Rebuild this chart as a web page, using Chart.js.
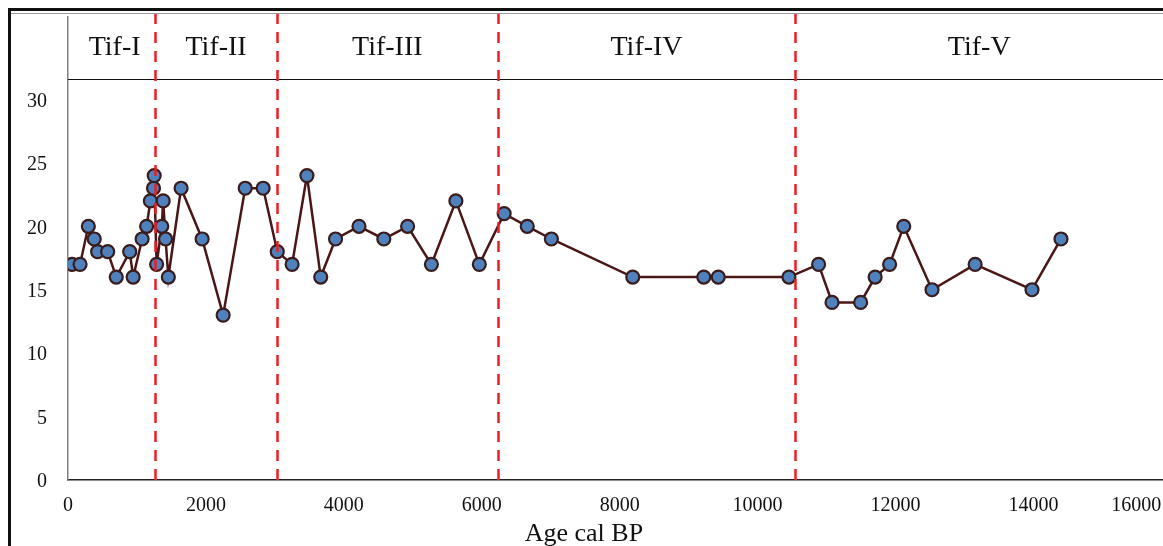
<!DOCTYPE html>
<html>
<head>
<meta charset="utf-8">
<script src="https://cdn.jsdelivr.net/npm/chart.js@4/dist/chart.umd.min.js"></script>
<style>
  html, body { margin: 0; padding: 0; background: #fff; overflow: hidden; width: 1163px; height: 546px; }
  #wrap { position: relative; width: 1180px; height: 546px; }
  #frameOuter { position: absolute; left: 8px; top: 8px; width: 2000px; height: 2000px;
    border-left: 3px solid #111; border-top: 3px solid #111; pointer-events: none; }
  #frameInner { position: absolute; left: 11px; top: 13px; width: 2000px; height: 1px;
    background: #9a9a9a; pointer-events: none; }
</style>
</head>
<body>
<div id="wrap">
  <canvas id="c" width="1180" height="546"></canvas>
  <div id="frameOuter"></div>
  <div id="frameInner"></div>
</div>
<script>
// ---- data ----
const ageBP = [60,175,295,380,430,575,700,895,945,1075,
  1140,1195,1240,1250,1285,1360,1380,1415,1455,1640,
  1945,2250,2570,2830,3035,3250,3465,3665,3880,4220,
  4580,4925,5270,5625,5965,6325,6660,7010,8190,9220,
  9430,10455,10885,11080,11495,11705,11915,12120,12530,13155,
  13980,14400];
const values = [17,17,20,19,18,18,16,18,16,19,
  20,22,23,24,17,20,22,19,16,23,
  19,13,23,23,18,17,24,16,19,20,
  19,20,17,22,17,21,20,19,16,16,
  16,16,17,14,14,16,17,20,15,17,
  15,19];
const zoneNames = ['Tif-I','Tif-II','Tif-III','Tif-IV','Tif-V'];
const zoneBoundaries = [1265, 3030, 6230, 10550];
const yTickValues = [0,5,10,15,20,25,30];
const xTickValues = [0,2000,4000,6000,8000,10000,12000,14000,16000];
const xAxisTitle = 'Age cal BP';

const points = ageBP.map((a, i) => ({ x: a, y: values[i] }));
const NB = '\u00a0';
const serif = "'Liberation Serif', 'Times New Roman', serif";

const zonePlugin = {
  id: 'zones',
  beforeDatasetsDraw(chart) {
    const { ctx, chartArea: a, scales: { x, y } } = chart;
    const headerY = Math.round(y.getPixelForValue(31.6)) + 0.5;
    ctx.save();
    ctx.strokeStyle = '#111';
    ctx.lineWidth = 1.2;
    ctx.beginPath();
    ctx.moveTo(a.left, headerY);
    ctx.lineTo(a.right + 20, headerY);
    ctx.stroke();
    const visRight = Math.min(a.right, window.innerWidth);
    const edges = [a.left].concat(zoneBoundaries.map(b => x.getPixelForValue(b)), [visRight]);
    ctx.fillStyle = '#111';
    ctx.font = "28px " + serif;
    ctx.textAlign = 'center';
    ctx.textBaseline = 'middle';
    const midY = (a.top + headerY) / 2 - 1;
    zoneNames.forEach((n, i) => {
      ctx.fillText(n, (edges[i] + edges[i + 1]) / 2 + (i === 0 ? 3 : 0), midY);
    });
    ctx.restore();
  },
  afterDatasetsDraw(chart) {
    const { ctx, chartArea: a, scales: { x } } = chart;
    ctx.save();
    ctx.strokeStyle = '#ee1c25';
    ctx.lineWidth = 2.5;
    ctx.setLineDash([11, 8]);
    zoneBoundaries.forEach(b => {
      const px = Math.round(x.getPixelForValue(b)) + 0.5;
      ctx.beginPath();
      ctx.moveTo(px, a.top - 4);
      ctx.lineTo(px, a.bottom);
      ctx.stroke();
    });
    ctx.restore();
  }
};

new Chart(document.getElementById('c'), {
  type: 'scatter',
  data: {
    datasets: [{
      data: points,
      showLine: true,
      borderColor: '#4a1616',
      borderWidth: 2.5,
      pointRadius: 6.5,
      pointHoverRadius: 6.5,
      pointBackgroundColor: '#4f81bd',
      pointBorderColor: '#3a1c1c',
      pointBorderWidth: 2.2
    }]
  },
  options: {
    responsive: false,
    animation: false,
    events: [],
    layout: { padding: { left: 0, top: 17, right: 8, bottom: 0 } },
    plugins: { legend: { display: false }, tooltip: { enabled: false } },
    scales: {
      x: {
        type: 'linear',
        min: 0, max: 16000,
        afterBuildTicks(s) { s.ticks = xTickValues.map(v => ({ value: v })); },
        afterFit(s) { s.height = 66; s.paddingLeft = 0; s.paddingRight = 0; },
        grid: { display: false, drawTicks: false },
        border: { display: true, color: '#222', width: 1.5 },
        ticks: {
          padding: 14,
          color: '#111',
          maxRotation: 0,
          autoSkip: false,
          font: { family: serif, size: 20 },
          callback: v => v === 16000 ? String(v) + NB.repeat(14) : String(v)
        },
        title: {
          display: true,
          text: xAxisTitle + NB.repeat(11),
          color: '#111',
          padding: { top: 0, bottom: 0 },
          font: { family: serif, size: 26, lineHeight: 0.9 }
        }
      },
      y: {
        min: 0, max: 36.5,
        afterBuildTicks(s) { s.ticks = yTickValues.map(v => ({ value: v })); },
        afterFit(s) { s.width = 68; s.paddingTop = 0; s.paddingBottom = 0; },
        grid: { display: false, drawTicks: false },
        border: { display: true, color: '#808080', width: 1.5 },
        ticks: {
          padding: 21,
          labelOffset: 2,
          color: '#111',
          font: { family: serif, size: 20 }
        }
      }
    }
  },
  plugins: [zonePlugin]
});
</script>
</body>
</html>
